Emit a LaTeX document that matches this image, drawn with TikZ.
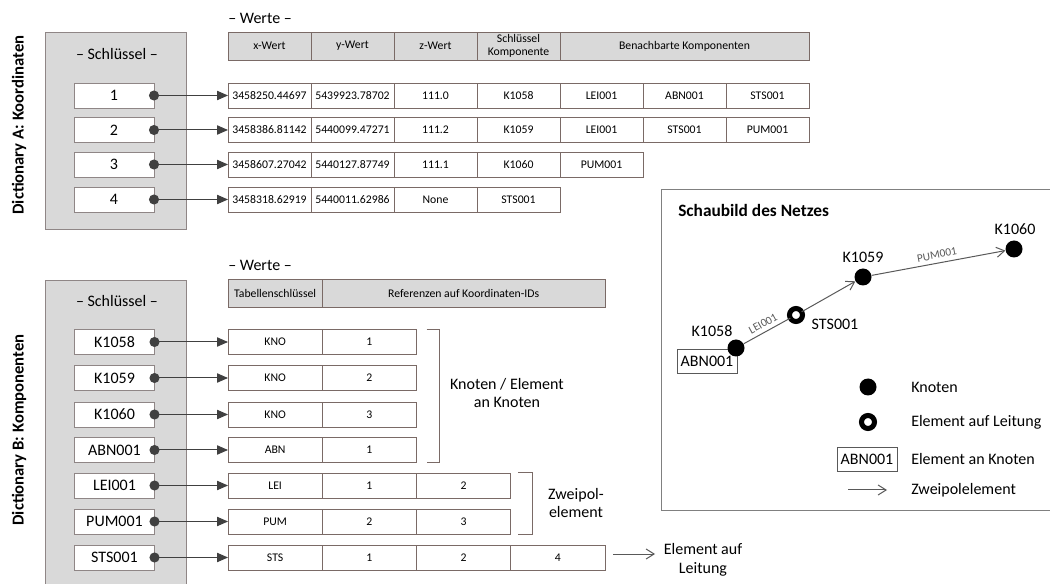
\documentclass[tikz,border=0pt]{standalone}
\usepackage{fontspec}
\setmainfont{Carlito}
\usetikzlibrary{arrows.meta,positioning}
\definecolor{boxgray}{HTML}{D9D9D9}
\definecolor{framebrown}{HTML}{7A6A66}
\definecolor{bordergray}{HTML}{8F8686}
\definecolor{linegray}{HTML}{595959}
\definecolor{darkline}{HTML}{404040}

\begin{document}
\begin{tikzpicture}[
		x=0.75pt, y=-0.75pt,
		font=\fontsize{12}{14}\selectfont,
		dictbox/.style={draw=bordergray, fill=boxgray, line width=0.6pt,
				anchor=north west, inner sep=0pt, outer sep=0pt},
		keybox/.style={draw=bordergray, fill=white, minimum width=60pt,
				minimum height=18.75pt, inner sep=0pt, outer sep=0pt, line width=0.6pt},
		cell/.style={draw=framebrown, fill=white, minimum width=#1,
				minimum height=18.75pt, inner sep=0pt, outer sep=0pt, line width=0.6pt,
				align=center, font=\fontsize{8.8}{9.5}\selectfont},
		cell/.default=62.25pt,
		headcell/.style={cell=#1, fill=boxgray, minimum height=21pt},
		headcell/.default=62.25pt,
		keyarrow/.style={{Circle[length=7.5pt]}-{Triangle[length=8.25pt, width=7pt]},
				darkline, line width=0.75pt, shorten <=-3.75pt},
		bracket/.style={draw=framebrown, line width=0.75pt},
		sidelabel/.style={rotate=90, font=\fontsize{12.5}{14}\bfseries},
		title/.style={anchor=base, inner sep=0pt},
		netdot/.style={circle, fill=black, minimum size=12.75pt, inner sep=0pt},
		netring/.style={circle, draw=black, fill=white, line width=3.8pt,
				minimum size=9.75pt, inner sep=0pt, outer sep=0pt},
		netbox/.style={draw=black!65, fill=white, inner sep=0pt, minimum width=45pt,
				minimum height=18pt, line width=0.6pt},
		netline/.style={linegray, line width=0.75pt},
		netarrow/.style={-{Straight Barb[length=6pt, width=7.5pt]}, linegray, line width=0.75pt},
		edgelabel/.style={font=\fontsize{8.5}{9}\selectfont, text=linegray, sloped, inner sep=3pt},
		legtext/.style={anchor=west, inner sep=0pt},
	]

	\useasboundingbox (0,0) rectangle (1050,584);

	% Dictionary A
	\node[sidelabel] (labela) at (19,125) {Dictionary A: Koordinaten};
	\node[dictbox, minimum width=105.75pt, minimum height=147.75pt] (dicta) at (45,32) {};
	\node[title] (schluessela) at (117,60) {-- Schlüssel --};
	\node[title, anchor=base west] (wertea) at (228,24) {-- Werte --};

	\node[headcell, anchor=west] (hax) at (228,46) {x-Wert};
	\node[headcell, right=0pt of hax] (hay) {y-Wert};
	\node[headcell, right=0pt of hay] (haz) {z-Wert};
	\node[headcell, right=0pt of haz] (hak) {Schlüssel\\Komponente};
	\node[headcell=186.75pt, right=0pt of hak] (han) {Benachbarte Komponenten};

	\node[keybox] (ka1) at (114,95.5) {1};
	\node[keybox] (ka2) at (114,130) {2};
	\node[keybox] (ka3) at (114,164.5) {3};
	\node[keybox] (ka4) at (114,199.5) {4};

	\node[cell, anchor=west] (a1x) at (228,95.5) {3458250.44697};
	\node[cell, right=0pt of a1x] (a1y) {5439923.78702};
	\node[cell, right=0pt of a1y] (a1z) {111.0};
	\node[cell, right=0pt of a1z] (a1k) {K1058};
	\node[cell, right=0pt of a1k] (a1n1) {LEI001};
	\node[cell, right=0pt of a1n1] (a1n2) {ABN001};
	\node[cell, right=0pt of a1n2] (a1n3) {STS001};

	\node[cell, anchor=west] (a2x) at (228,130) {3458386.81142};
	\node[cell, right=0pt of a2x] (a2y) {5440099.47271};
	\node[cell, right=0pt of a2y] (a2z) {111.2};
	\node[cell, right=0pt of a2z] (a2k) {K1059};
	\node[cell, right=0pt of a2k] (a2n1) {LEI001};
	\node[cell, right=0pt of a2n1] (a2n2) {STS001};
	\node[cell, right=0pt of a2n2] (a2n3) {PUM001};

	\node[cell, anchor=west] (a3x) at (228,164.5) {3458607.27042};
	\node[cell, right=0pt of a3x] (a3y) {5440127.87749};
	\node[cell, right=0pt of a3y] (a3z) {111.1};
	\node[cell, right=0pt of a3z] (a3k) {K1060};
	\node[cell, right=0pt of a3k] (a3n1) {PUM001};

	\node[cell, anchor=west] (a4x) at (228,199.5) {3458318.62919};
	\node[cell, right=0pt of a4x] (a4y) {5440011.62986};
	\node[cell, right=0pt of a4y] (a4z) {None};
	\node[cell, right=0pt of a4z] (a4k) {STS001};

	\draw[keyarrow] (ka1) -- (a1x);
	\draw[keyarrow] (ka2) -- (a2x);
	\draw[keyarrow] (ka3) -- (a3x);
	\draw[keyarrow] (ka4) -- (a4x);

	% Dictionary B
	\node[sidelabel] (labelb) at (19,430) {Dictionary B: Komponenten};
	\node[dictbox, minimum width=105.75pt, minimum height=234pt] (dictb) at (45,280) {};
	\node[title] (schluesselb) at (117,307) {-- Schlüssel --};
	\node[title, anchor=base west] (werteb) at (228,271) {-- Werte --};

	\node[headcell=70.7pt, anchor=west] (hbt) at (228,293) {Tabellenschlüssel};
	\node[headcell=212.1pt, right=0pt of hbt] (hbr) {Referenzen auf Koordinaten-IDs};

	\node[keybox] (kb1) at (114.5,342) {K1058};
	\node[keybox] (kb2) at (114.5,378) {K1059};
	\node[keybox] (kb3) at (114.5,414.5) {K1060};
	\node[keybox] (kb4) at (114.5,450) {ABN001};
	\node[keybox] (kb5) at (114.5,485.5) {LEI001};
	\node[keybox] (kb6) at (114.5,521.5) {PUM001};
	\node[keybox] (kb7) at (114.5,557.5) {STS001};

	\node[cell=70.7pt, anchor=west] (kno1a) at (228,342) {KNO};
	\node[cell=70.7pt, right=0pt of kno1a] (kno1b) {1};
	\node[cell=70.7pt, anchor=west] (kno2a) at (228,378) {KNO};
	\node[cell=70.7pt, right=0pt of kno2a] (kno2b) {2};
	\node[cell=70.7pt, anchor=west] (kno3a) at (228,414.5) {KNO};
	\node[cell=70.7pt, right=0pt of kno3a] (kno3b) {3};
	\node[cell=70.7pt, anchor=west] (abn1a) at (228,450) {ABN};
	\node[cell=70.7pt, right=0pt of abn1a] (abn1b) {1};
	\node[cell=70.7pt, anchor=west] (lei1) at (228,485.5) {LEI};
	\node[cell=70.7pt, right=0pt of lei1] (lei2) {1};
	\node[cell=70.7pt, right=0pt of lei2] (lei3) {2};
	\node[cell=70.7pt, anchor=west] (pum1) at (228,521.5) {PUM};
	\node[cell=70.7pt, right=0pt of pum1] (pum2) {2};
	\node[cell=70.7pt, right=0pt of pum2] (pum3) {3};
	\node[cell=70.7pt, anchor=west] (sts1) at (228,557.5) {STS};
	\node[cell=70.7pt, right=0pt of sts1] (sts2) {1};
	\node[cell=70.7pt, right=0pt of sts2] (sts3) {2};
	\node[cell=70.7pt, right=0pt of sts3] (sts4) {4};

	\draw[keyarrow] (kb1) -- (kno1a);
	\draw[keyarrow] (kb2) -- (kno2a);
	\draw[keyarrow] (kb3) -- (kno3a);
	\draw[keyarrow] (kb4) -- (abn1a);
	\draw[keyarrow] (kb5) -- (lei1);
	\draw[keyarrow] (kb6) -- (pum1);
	\draw[keyarrow] (kb7) -- (sts1);

	% brackets and their notes
	\draw[bracket] ([xshift=7.5pt]kno1b.north east) -- ++(9.75pt,0)
	|- ([xshift=7.5pt]abn1b.south east);
	\node[align=center] (knotennote) at (507,393) {Knoten / Element\\an Knoten};

	\draw[bracket] ([xshift=5.25pt]lei3.north east) -- ++(11.25pt,0)
	|- ([xshift=5.25pt]pum3.south east);
	\node[align=center] (zweipolnote) at (576,503) {Zweipol-\\element};

	\coordinate (ststail) at (613,554);
	\coordinate (stshead) at (655,554);
	\draw[netarrow] (ststail) -- (stshead);
	\node[align=center] (stsnote) at (703,560) {Element auf\\Leitung};

	% Schaubild des Netzes
	\draw[draw=black!50, line width=0.75pt] (1060,190) -- (661,190) -- (661,511) -- (1060,511);
	\node[anchor=west, inner sep=0pt, font=\fontsize{13}{15}\bfseries] (nettitle) at (678,210)
	{Schaubild des Netzes};

	\node[netbox] (abnnet) at (707,361) {ABN001};
	\node[netdot] (k1058) at (736,348) {};
	\node[netring] (sts) at (796,315) {};
	\node[netdot] (k1059) at (863,277) {};
	\node[netdot] (k1060) at (1014,249) {};

	\node (k1058lab) at (712,331) {K1058};
	\node (k1059lab) at (863,257) {K1059};
	\node (k1060lab) at (1015,229) {K1060};
	\node[anchor=west] (stslab) at (807,324) {STS001};

	\draw[netline] (k1058) -- (sts) node[midway, above, edgelabel] {LEI001};
	\draw[netarrow] (sts) -- (k1059);
	\draw[netarrow] (k1059) -- (k1060) node[midway, above, edgelabel] {PUM001};

	% legend
	\node[netdot] (legdot) at (868,387) {};
	\node[legtext] (legdottext) at (911,387) {Knoten};
	\node[netring] (legring) at (868,422) {};
	\node[legtext] (legringtext) at (911,422) {Element auf Leitung};
	\node[netbox] (legbox) at (867,459) {ABN001};
	\node[legtext] (legboxtext) at (911,459) {Element an Knoten};
	\coordinate (legtail) at (848,490);
	\coordinate (leghead) at (887,490);
	\draw[netarrow] (legtail) -- (leghead);
	\node[legtext] (legarrowtext) at (911,490) {Zweipolelement};

\end{tikzpicture}
\end{document}
